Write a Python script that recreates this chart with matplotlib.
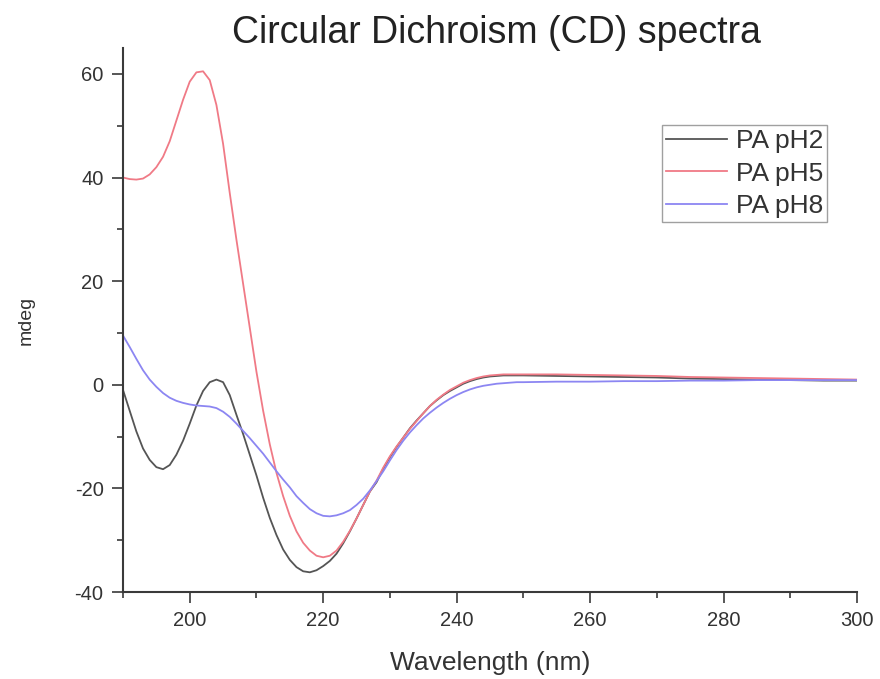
import matplotlib
matplotlib.use("Agg")
import matplotlib.pyplot as plt
from matplotlib.ticker import MultipleLocator

plt.rcParams['font.family'] = ['Liberation Sans', 'DejaVu Sans']
plt.rcParams['axes.unicode_minus'] = False

# Wavelength (nm)
wavelength = list(range(190, 251)) + [255, 260, 265, 270, 275, 280, 285, 290, 295, 300]

ph2 = [-1.0, -5.0, -9.0, -12.3, -14.5, -15.9, -16.3, -15.5, -13.5, -10.8,
       -7.5, -4.0, -1.2, 0.5, 1.0, 0.5, -2.0, -5.8, -9.5, -13.5,
       -17.5, -21.8, -25.7, -29.0, -31.8, -33.8, -35.2, -36.0, -36.2, -35.8,
       -35.0, -34.0, -32.6, -30.6, -28.3, -25.8, -23.2, -20.6, -18.8, -16.2,
       -14.0, -12.0, -10.2, -8.4, -6.9, -5.5, -4.1, -3.0, -2.0, -1.2,
       -0.5, 0.2, 0.7, 1.1, 1.4, 1.6, 1.7, 1.8, 1.8, 1.8,
       1.8, 1.7, 1.6, 1.5, 1.4, 1.2, 1.1, 1.0, 0.9, 0.8, 0.8]

ph5 = [40.0, 39.7, 39.6, 39.8, 40.6, 42.0, 44.0, 47.0, 51.0, 55.0,
       58.5, 60.3, 60.5, 58.8, 54.0, 46.5, 37.0, 28.0, 19.5, 11.0,
       2.5, -5.0, -11.5, -17.0, -21.5, -25.3, -28.3, -30.5, -32.0, -33.0,
       -33.3, -33.0, -32.0, -30.3, -28.2, -25.8, -23.2, -20.6, -18.5, -16.0,
       -13.8, -11.9, -10.2, -8.5, -7.0, -5.5, -4.1, -2.9, -1.9, -1.0,
       -0.3, 0.4, 0.9, 1.3, 1.6, 1.8, 1.9, 2.0, 2.0, 2.0,
       2.0, 2.0, 1.9, 1.8, 1.7, 1.5, 1.4, 1.3, 1.2, 1.1, 1.0]

ph8 = [9.5, 7.3, 5.0, 2.8, 1.0, -0.4, -1.6, -2.5, -3.1, -3.5,
       -3.8, -4.0, -4.1, -4.2, -4.5, -5.2, -6.2, -7.5, -8.9, -10.3,
       -11.8, -13.3, -15.0, -16.7, -18.3, -19.8, -21.5, -22.8, -24.0, -24.8,
       -25.3, -25.4, -25.2, -24.8, -24.2, -23.2, -22.0, -20.4, -18.6, -16.7,
       -14.6, -12.6, -10.8, -9.2, -7.8, -6.5, -5.4, -4.4, -3.5, -2.7,
       -2.0, -1.4, -0.9, -0.5, -0.2, 0.0, 0.2, 0.3, 0.4, 0.5,
       0.5, 0.6, 0.6, 0.7, 0.7, 0.8, 0.8, 0.9, 0.9, 0.9, 0.9]

labels = ["PA pH2", "PA pH5", "PA pH8"]
colors = ["#555555", "#f07a86", "#8c86f2"]

fig = plt.figure(figsize=(8.8, 6.79), dpi=100)
ax = fig.add_axes([123/880, 1-592/679, (857-123)/880, (592-48)/679])

for y, lab, c in zip([ph2, ph5, ph8], labels, colors):
    ax.plot(wavelength, y, color=c, lw=1.3, label=lab)

ax.set_xlim(190, 300)
ax.set_ylim(-40, 65)
ax.xaxis.set_major_locator(MultipleLocator(20))
ax.xaxis.set_minor_locator(MultipleLocator(10))
ax.set_yticks([-40, -20, 0, 20, 40, 60])
ax.yaxis.set_minor_locator(MultipleLocator(10))

for side in ["top", "right"]:
    ax.spines[side].set_visible(False)
for side in ["left", "bottom"]:
    ax.spines[side].set_color("#3a3a3a")
    ax.spines[side].set_linewidth(1.5)

ax.tick_params(which="major", direction="out", length=8, width=1.2,
               color="#3a3a3a", labelsize=14.5, labelcolor="#333333", pad=6)
ax.tick_params(which="minor", direction="out", length=4.5, width=1.2,
               color="#3a3a3a")

ax.set_xlabel("Wavelength (nm)", fontsize=19, color="#333333", labelpad=15)
fig.text(26/880, 1 - 320/679, "mdeg", rotation=90, fontsize=14,
         color="#333333", ha="center", va="center")
fig.text(0.5 * (230 + 762) / 880, 1 - 33/679, "Circular Dichroism (CD) spectra",
         fontsize=27, color="#222222", ha="center", va="center")

leg = ax.legend(loc="upper left", bbox_to_anchor=(662/880, 1-125/679),
                bbox_transform=fig.transFigure, fontsize=19, frameon=True,
                fancybox=False, edgecolor="#888888", borderpad=0.15,
                labelspacing=0.33, handlelength=2.3, handletextpad=0.35,
                borderaxespad=0)
leg.get_frame().set_linewidth(1.0)
for t in leg.get_texts():
    t.set_color("#333333")

fig.savefig("out.png", dpi=100)
